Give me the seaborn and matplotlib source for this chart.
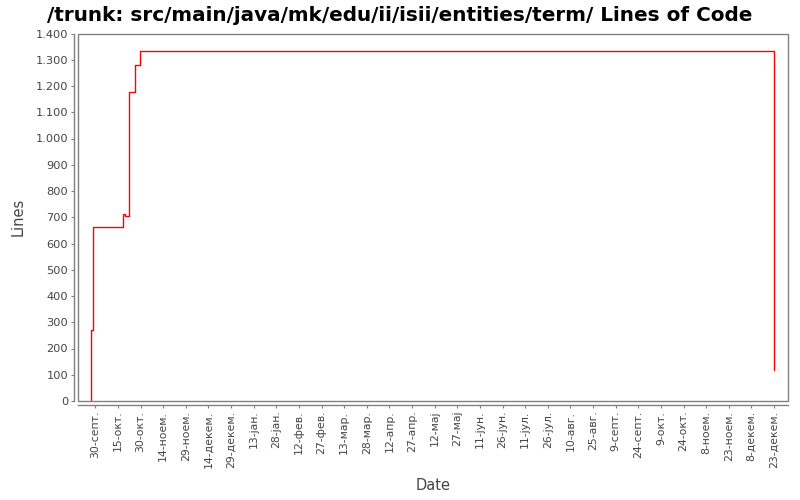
import pandas as pd
import matplotlib
matplotlib.use("Agg")
import matplotlib.pyplot as plt
import seaborn as sns
from matplotlib.patches import Rectangle

# commit history (date, lines of code)
commit_dates = ["2007-09-27 08:00", "2007-09-27 08:00", "2007-09-28 16:00",
                "2007-10-18 14:00", "2007-10-19 22:00", "2007-10-22 12:00",
                "2007-10-26 12:00", "2007-10-29 20:00", "2008-12-23 00:00"]
loc_values = [0, 271, 662, 713, 705, 1176, 1281, 1334, 117]

tick_start = "2007-09-30"
tick_labels = ["30-септ.", "15-окт.", "30-окт.", "14-ноем.", "29-ноем.", "14-декем.",
               "29-декем.", "13-јан.", "28-јан.", "12-фев.", "27-фев.", "13-мар.",
               "28-мар.", "12-апр.", "27-апр.", "12-мај", "27-мај", "11-јун.",
               "26-јун.", "11-јул.", "26-јул.", "10-авг.", "25-авг.", "9-септ.",
               "24-септ.", "9-окт.", "24-окт.", "8-ноем.", "23-ноем.", "8-декем.",
               "23-декем."]
y_ticks = list(range(0, 1401, 100))

sns.set_style("white")
plt.rcParams["font.family"] = ["DejaVu Sans"]

df = pd.DataFrame({"Date": pd.to_datetime(commit_dates), "Lines": loc_values})

fig = plt.figure(figsize=(8, 5), dpi=100)
ax = fig.add_axes([0.0975, 0.198, 0.8875, 0.735])

sns.lineplot(data=df, x="Date", y="Lines", ax=ax, estimator=None, sort=False,
             color="red", linewidth=1.0, drawstyle="steps-post")

ax.set_xlim(pd.Timestamp("2007-09-18 12:00"), pd.Timestamp("2009-01-01 07:00"))
ax.set_ylim(0, 1400)

tick_pos = pd.date_range(tick_start, periods=len(tick_labels), freq="15D")
ax.set_xticks(tick_pos)
ax.set_xticklabels(tick_labels)
ax.set_yticks(y_ticks)
ax.set_yticklabels([f"{v:,}".replace(",", ".") for v in y_ticks])
ax.tick_params(axis="x", labelrotation=90, labelsize=7.8, labelcolor="#444444")
ax.tick_params(axis="y", labelsize=8.2, labelcolor="#444444")

# plot outline box plus offset axis lines
for s in ax.spines.values():
    s.set_visible(False)
ax.add_patch(Rectangle((0, 0), 1, 1, transform=ax.transAxes, fill=False,
                       edgecolor="#808080", linewidth=1.0, clip_on=False, zorder=5))
for side in ["left", "bottom"]:
    ax.spines[side].set_visible(True)
    ax.spines[side].set_position(("outward", 3))
    ax.spines[side].set_color("#808080")
    ax.spines[side].set_linewidth(1.0)
ax.tick_params(axis="both", which="both", length=2, width=0.8, color="#808080", pad=2,
               left=True, bottom=True)

ax.set_xlabel("Date", fontsize=10.5, color="#444444")
ax.set_ylabel("Lines", fontsize=10.5, color="#444444")
ax.xaxis.set_label_coords(0.5, -0.209)
ax.yaxis.set_label_coords(-0.074, 0.5)
fig.suptitle("/trunk: src/main/java/mk/edu/ii/isii/entities/term/ Lines of Code",
             fontsize=14.4, fontweight="bold", color="black", x=0.5, y=0.988)

fig.savefig("out.png", dpi=100)
